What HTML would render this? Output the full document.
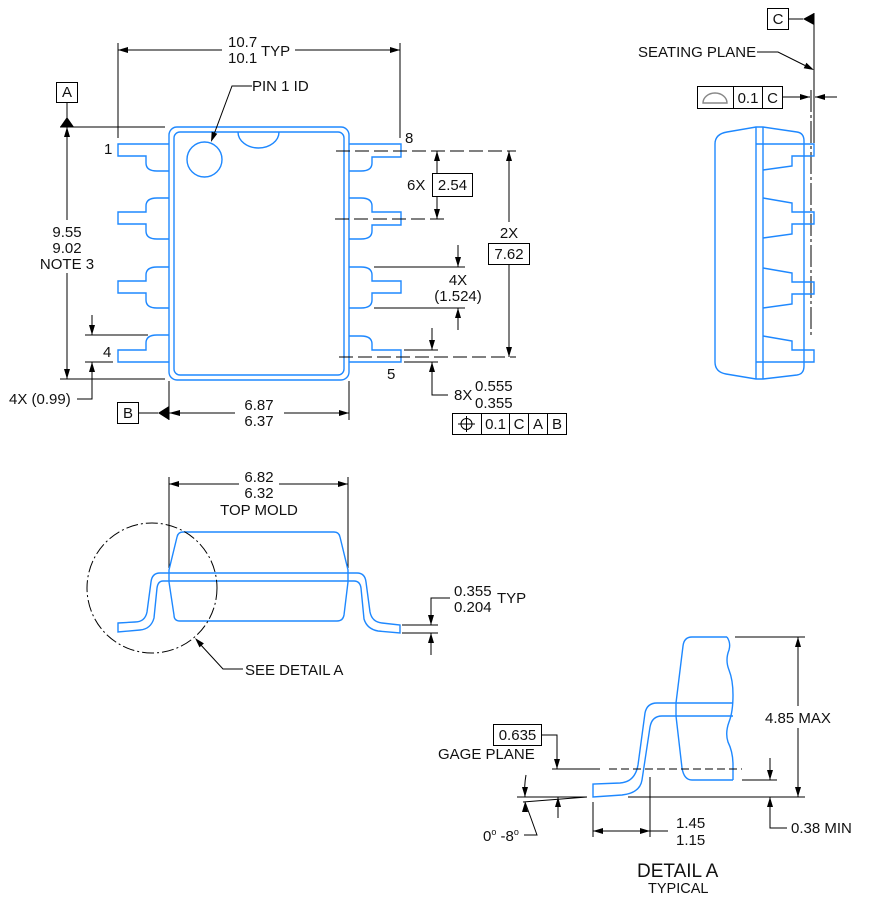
<!DOCTYPE html>
<html><head><meta charset="utf-8"><style>
html,body{margin:0;padding:0;background:#fff;}
svg{display:block;}
text{font-family:"Liberation Sans",Arial,sans-serif;font-size:15px;fill:#111;}
.k{stroke:#000;stroke-width:1;fill:none;}
.b{stroke:#1e88ff;stroke-width:1.4;fill:none;}
.a{fill:#000;stroke:none;}
.m{text-anchor:middle;}
</style></head><body>
<svg width="871" height="902" viewBox="0 0 871 902" xmlns="http://www.w3.org/2000/svg">

<!-- ================= TOP VIEW ================= -->
<path class="k" d="M118,43V138 M400,43V138 M118,50H222 M295,50H400"/>
<polygon class="a" points="118,50 128,47 128,53"/>
<polygon class="a" points="400,50 390,47 390,53"/>
<text x="228" y="47">10.7</text>
<text x="228" y="63">10.1</text>
<text x="261" y="56">TYP</text>

<rect class="k" x="56.5" y="82.5" width="21" height="20"/>
<text class="m" x="67" y="97">A</text>
<path class="k" d="M67,102V118 M60,127H165 M67,127V220 M67,273V379 M60,379H165"/>
<polygon class="a" points="67,117 60,127 74,127"/>
<polygon class="a" points="67,127 64,137 70,137"/>
<polygon class="a" points="67,379 64,369 70,369"/>
<text class="m" x="67" y="237">9.55</text>
<text class="m" x="67" y="253">9.02</text>
<text class="m" x="67" y="269">NOTE 3</text>

<rect class="b" x="169" y="127" width="180" height="253" rx="8"/>
<rect class="b" x="174" y="132" width="170" height="243" rx="6"/>
<path class="b" d="M238,132 A20.5,16 0 0 0 279,132"/>
<circle class="b" cx="204.5" cy="159.5" r="17.5"/>

<path class="k" d="M252,86H232L213,137"/>
<polygon class="a" points="211,142 217.3,133.7 211.7,131.6"/>
<text x="252" y="91">PIN 1 ID</text>

<path class="b" d="M169,144H118V156H146V163Q146,171 157,171H169"/>
<path class="b" d="M169,198H157Q146,198 146,206V212H118V224H146V231Q146,239 157,239H169"/>
<path class="b" d="M169,267H157Q146,267 146,275V281H118V293H146V300Q146,308 157,308H169"/>
<path class="b" d="M169,335H157Q146,335 146,343V350H118V362H169"/>
<path class="b" d="M349,144H401V157H372V163Q372,171 361,171H349"/>
<path class="b" d="M349,198H361Q372,198 372,206V212H401V225H372V231Q372,239 361,239H349"/>
<path class="b" d="M349,267H361Q372,267 372,275V281H401V293H372V300Q372,308 361,308H349"/>
<path class="b" d="M349,336H361Q372,336 372,344V350H401V362H349"/>

<text x="104" y="154">1</text>
<text x="103" y="357">4</text>
<text x="405" y="143">8</text>
<text x="387" y="379">5</text>

<path class="k" d="M85,335H148 M85,362H113 M92,315V335 M92,362V399H77"/>
<polygon class="a" points="92,335 89,325 95,325"/>
<polygon class="a" points="92,362 89,372 95,372"/>
<text x="9" y="404">4X (0.99)</text>

<rect class="k" x="117.5" y="402.5" width="21" height="21"/>
<text class="m" x="128" y="418">B</text>
<path class="k" d="M138,413H158 M169,381V420 M349,381V420 M169,413H235 M284,413H349"/>
<polygon class="a" points="158,413 169,406 169,420"/>
<polygon class="a" points="169,413 180,410 180,416"/>
<polygon class="a" points="349,413 339,410 339,416"/>
<text class="m" x="259" y="410">6.87</text>
<text class="m" x="259" y="426">6.37</text>

<path class="k" stroke-dasharray="14 5" d="M336,151H516 M335,219H445 M339,357H516"/>

<path class="k" d="M437,151V173 M437,196V219"/>
<polygon class="a" points="437,151 434,161 440,161"/>
<polygon class="a" points="437,219 434,209 440,209"/>
<rect class="k" x="432.5" y="173.5" width="40" height="23"/>
<text class="m" x="452.5" y="190">2.54</text>
<text x="407" y="190">6X</text>

<path class="k" d="M509,151V222 M509,264V357"/>
<polygon class="a" points="509,151 506,161 512,161"/>
<polygon class="a" points="509,357 506,347 512,347"/>
<text class="m" x="509" y="238">2X</text>
<rect class="k" x="488.5" y="243.5" width="41" height="21"/>
<text class="m" x="509" y="259">7.62</text>

<path class="k" d="M374,267H465 M374,308H465 M458,245V267 M458,308V330"/>
<polygon class="a" points="458,267 455,257 461,257"/>
<polygon class="a" points="458,308 455,318 461,318"/>
<text class="m" x="458" y="285">4X</text>
<text class="m" x="458" y="301">(1.524)</text>

<path class="k" d="M404,350H438 M404,362H438 M432,328V350 M432,362V395H448"/>
<polygon class="a" points="432,350 429,340 435,340"/>
<polygon class="a" points="432,362 429,372 435,372"/>
<text x="454" y="400">8X</text>
<text x="475" y="391">0.555</text>
<text x="475" y="408">0.355</text>
<rect class="k" x="452.5" y="413.5" width="114" height="21"/>
<path class="k" d="M481.5,413.5V434.5 M509.5,413.5V434.5 M528.5,413.5V434.5 M547.5,413.5V434.5"/>
<circle class="k" cx="466.5" cy="424" r="5.5"/>
<path class="k" d="M458,424H475 M466.5,416V432"/>
<text class="m" x="495.5" y="429">0.1</text>
<text class="m" x="519" y="429">C</text>
<text class="m" x="538" y="429">A</text>
<text class="m" x="557" y="429">B</text>

<!-- ================= SIDE VIEW (RIGHT) ================= -->
<rect class="k" x="767.5" y="8.5" width="21" height="21"/>
<text class="m" x="778" y="24">C</text>
<path class="k" d="M788,19H803 M814,13V143"/>
<polygon class="a" points="803,19 814,13 814,25"/>
<text x="638" y="57">SEATING PLANE</text>
<path class="k" d="M757,52H778L805,65.5"/>
<polygon class="a" points="814,70 803.7,68.2 806.4,62.8"/>
<rect class="k" x="697.5" y="86.5" width="85" height="22"/>
<path class="k" d="M733.5,86.5V108.5 M762.5,86.5V108.5"/>
<path d="M703,103 A12,10 0 0 1 727,103 Z" fill="none" stroke="#888" stroke-width="1.4"/>
<text class="m" x="748" y="103">0.1</text>
<text class="m" x="772.5" y="103">C</text>
<path class="k" d="M782,97H810 M815,97H837"/>
<polygon class="a" points="810,97 800,94 800,100"/>
<polygon class="a" points="815,97 825,94 825,100"/>
<path class="k" stroke-dasharray="22 3 3 3" d="M811,90V337"/>

<path class="b" d="M727,132L756,127H763L797,132Q804,133 804,141V366Q804,374 797,375L763,379H756L726,374Q715,372 715,362V144Q715,134 727,132Z"/>
<path class="b" d="M756,127V379 M763,127V379"/>
<path class="b" d="M756,144H814V156H792V166L763,170"/>
<path class="b" d="M763,198L792,203V212H814V224H792V234L763,238"/>
<path class="b" d="M763,268L792,273V282H814V294H792V304L763,308"/>
<path class="b" d="M763,336L792,341V350H814V362H756"/>

<!-- ================= FRONT VIEW (BOTTOM LEFT) ================= -->
<path class="k" d="M169,477V568 M348,477V568 M169,484H239 M279,484H348"/>
<polygon class="a" points="169,484 179,481 179,487"/>
<polygon class="a" points="348,484 338,481 338,487"/>
<text class="m" x="259" y="482">6.82</text>
<text class="m" x="259" y="498">6.32</text>
<text class="m" x="259" y="515">TOP MOLD</text>

<path class="b" d="M183,532H334Q339,532 340,537L348,570V582L344,615Q343,621 337,621H180Q174,621 174,615L169,582V570L177,537Q178,532 183,532Z"/>
<path class="b" d="M118,623L135,622Q145,622 147,612L151,582Q152,573 160,573H357Q365,573 366,582L370,612Q372,622 382,623L400,625V633L378,631Q367,629 364,619L361,588Q360,581 354,581H163Q158,581 157,588L154,618Q151,629 140,630L118,632Z"/>
<circle cx="152" cy="588" r="65" fill="none" stroke="#000" stroke-width="1" stroke-dasharray="12 3 2 3"/>
<path class="k" d="M243,669H223L200,644"/>
<polygon class="a" points="195,638 203.9,643.4 199.5,647.4"/>
<text x="245" y="675">SEE DETAIL A</text>

<path class="k" d="M402,625H438 M402,633H438 M450,598H431V625 M431,633V655"/>
<polygon class="a" points="431,625 428,615 434,615"/>
<polygon class="a" points="431,633 428,643 434,643"/>
<text x="454" y="596">0.355</text>
<text x="454" y="612">0.204</text>
<text x="497" y="603">TYP</text>

<!-- ================= DETAIL A ================= -->
<path class="b" d="M727,637H692Q684,637 683,646L676,703 M676,716L682,768Q684,780 692,780H733"/>
<path class="b" d="M676,703V716"/>
<path class="b" d="M727,637Q731,643 729,650Q725,660 729,670Q733,680 733,695Q733,712 729,722Q725,733 728,742Q733,752 733,765V780"/>
<path class="b" d="M733,703H657Q647,703 645,713L638,765Q635,782 620,783L593,784V797L622,795Q640,793 642,780L650,727Q652,716 662,716H733"/>

<path class="k" d="M552,769H600"/>
<path class="k" stroke-dasharray="8 4" d="M609,769H742"/>
<rect class="k" x="493.5" y="724.5" width="48" height="21"/>
<text class="m" x="517.5" y="740">0.635</text>
<text x="438" y="759">GAGE PLANE</text>
<path class="k" d="M541,735H557V769 M558,797V818"/>
<polygon class="a" points="557,769 554,759 560,759"/>
<polygon class="a" points="558,797 555,807 561,807"/>

<path class="k" d="M517,797H587 M523,802L587,797 M628,797H805"/>
<path class="k" d="M526,775Q524,786 525,797 M524,835H537Q531,818 525,802"/>
<polygon class="a" points="525,797 522,787 528,787"/>
<polygon class="a" points="525,802 522,812 528,812"/>
<text x="483" y="841">0<tspan dy="-6" font-size="9">o</tspan><tspan dy="6"> -8</tspan><tspan dy="-6" font-size="9">o</tspan></text>

<path class="k" d="M593,802V837 M650,777V837 M593,831H668"/>
<polygon class="a" points="593,831 603,828 603,834"/>
<polygon class="a" points="650,831 640,828 640,834"/>
<text x="676" y="828">1.45</text>
<text x="676" y="845">1.15</text>

<path class="k" d="M735,637H805 M798,637V706 M798,728V797"/>
<polygon class="a" points="798,637 795,647 801,647"/>
<polygon class="a" points="798,797 795,787 801,787"/>
<text x="765" y="723">4.85 MAX</text>

<path class="k" d="M742,780H777 M770,758V780 M770,797V828H787"/>
<polygon class="a" points="770,780 767,770 773,770"/>
<polygon class="a" points="770,797 767,807 773,807"/>
<text x="791" y="833">0.38 MIN</text>

<text x="637" y="877" style="font-size:19px">DETAIL A</text>
<text x="648" y="893" style="font-size:14.5px">TYPICAL</text>
</svg>
</body></html>
